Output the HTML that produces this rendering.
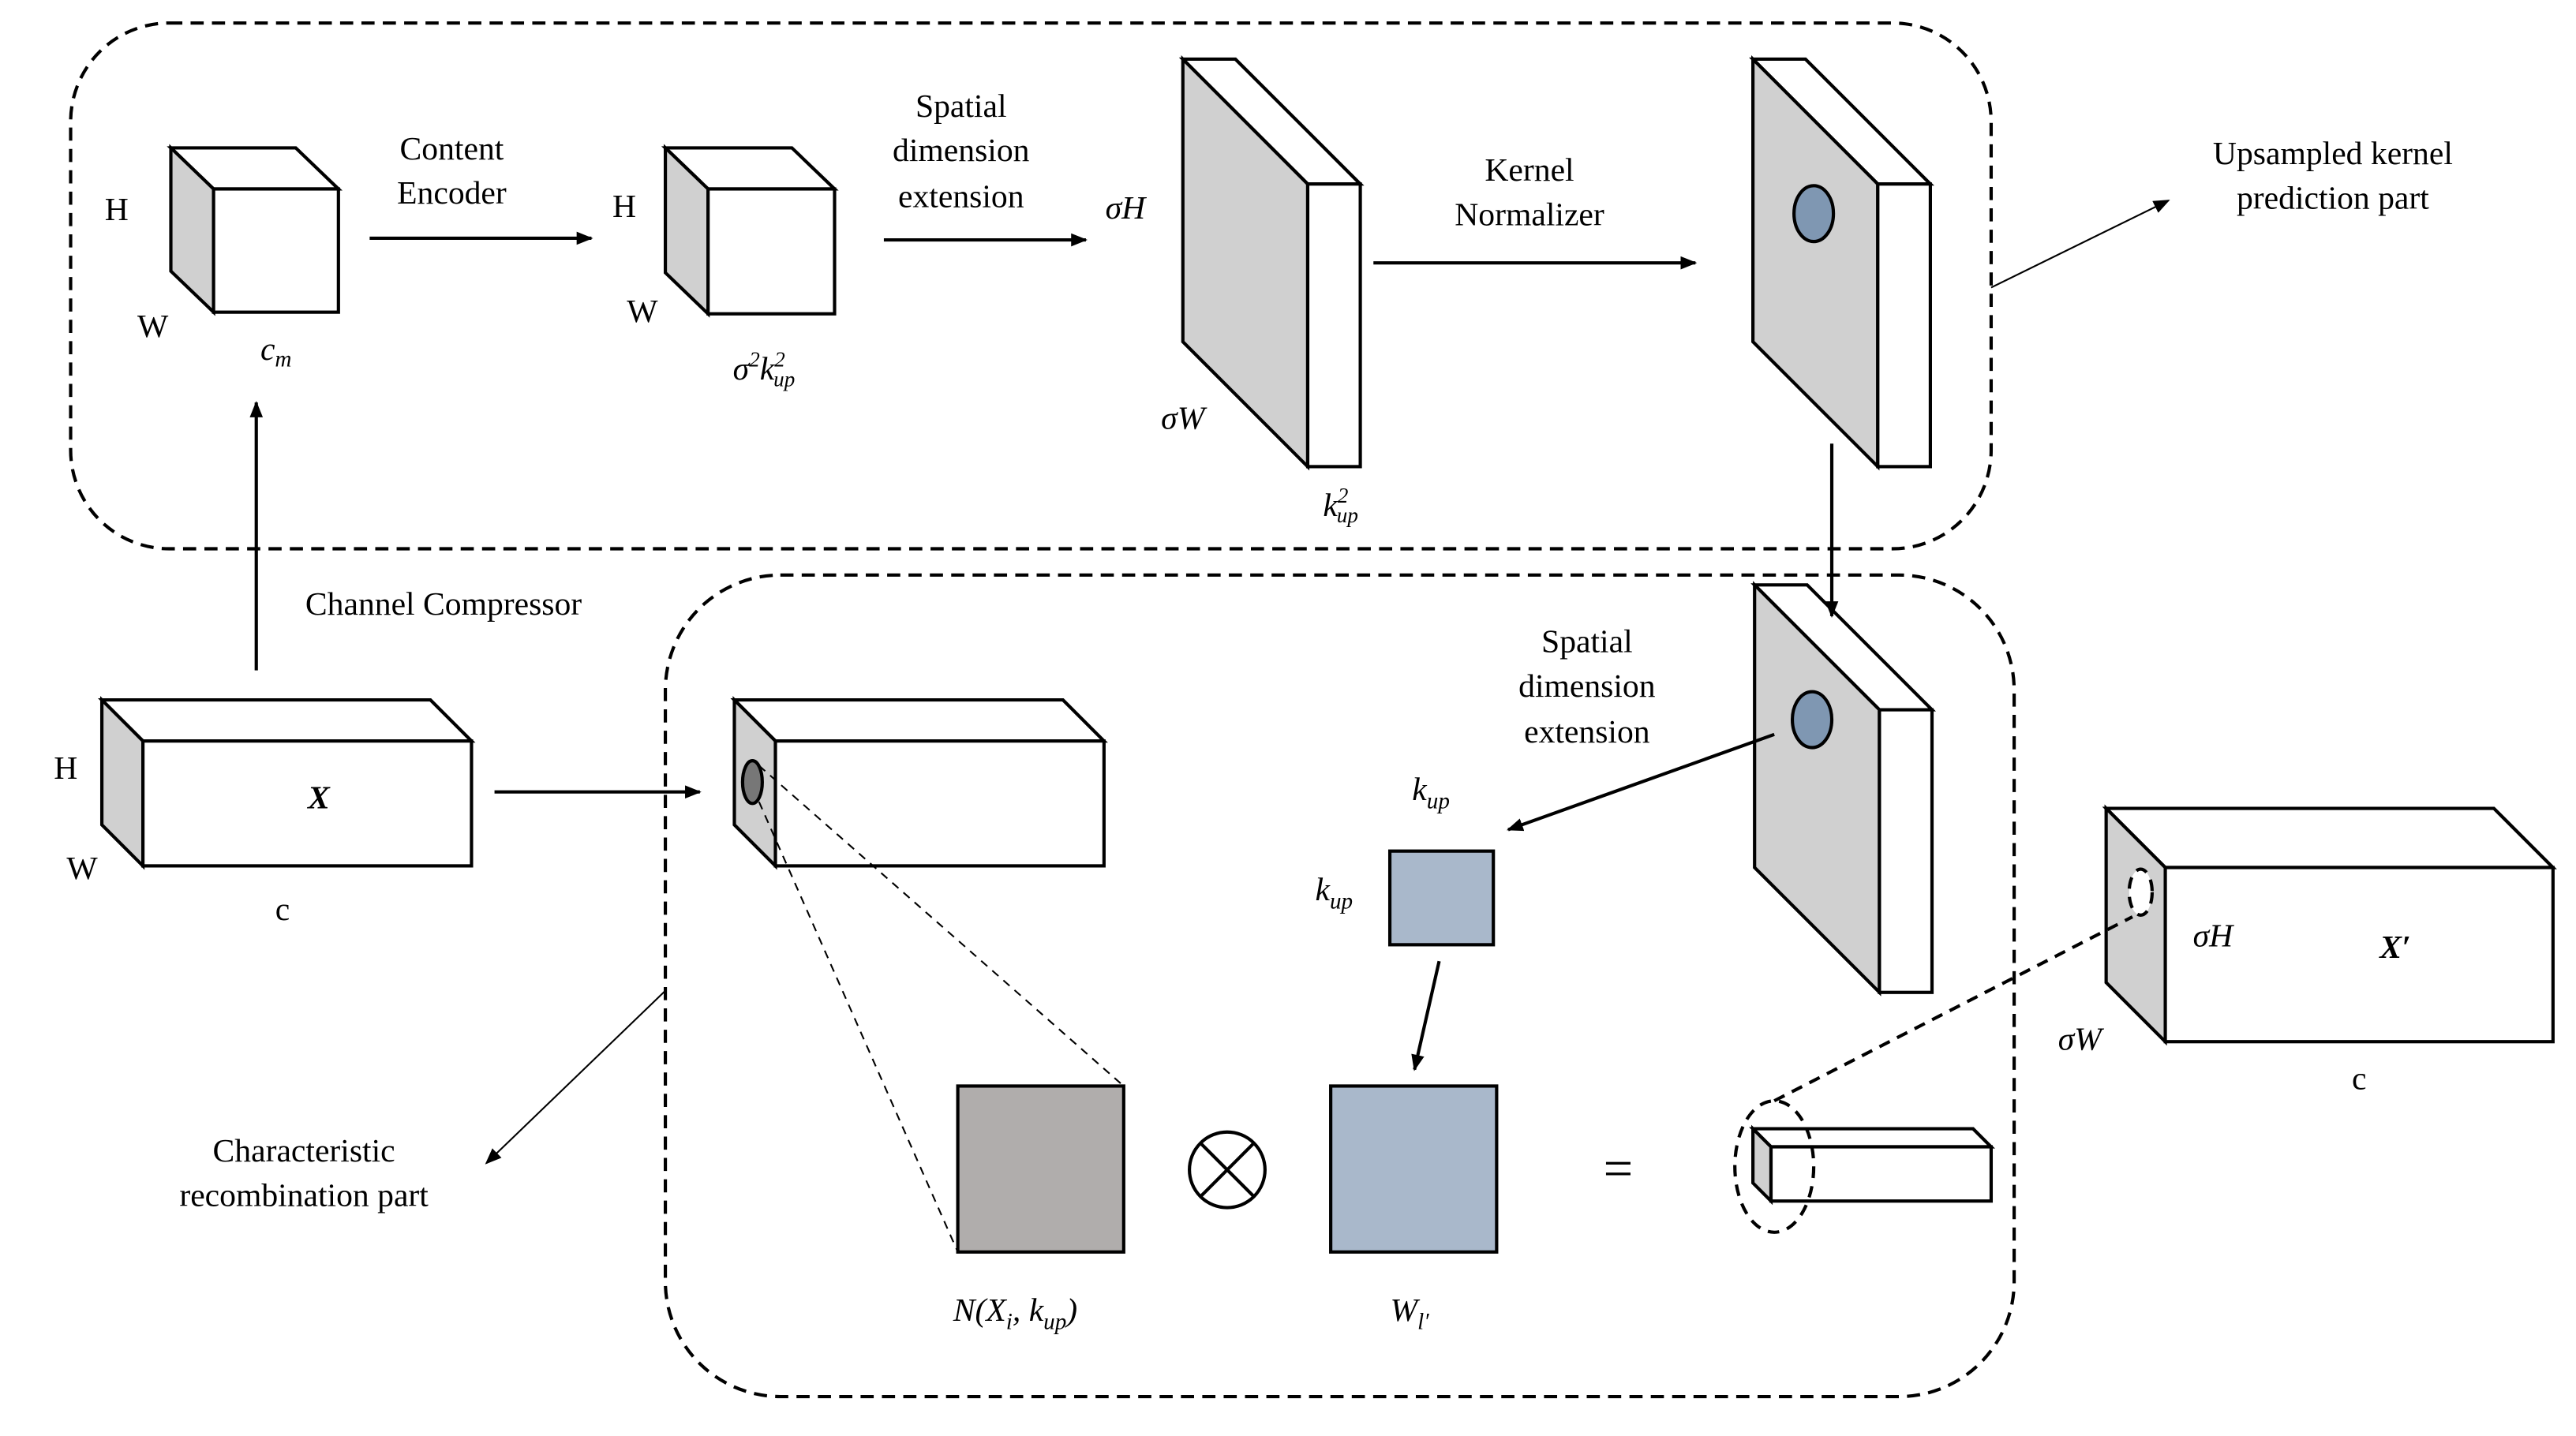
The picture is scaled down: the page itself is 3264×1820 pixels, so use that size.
<!DOCTYPE html>
<html><head><meta charset="utf-8"><style>
html,body{margin:0;padding:0;background:#fff;}
svg{display:block;}
text{font-family:"Liberation Serif","DejaVu Serif",serif;font-size:20px;fill:#000;}
.i{font-style:italic;}
</style></head><body>
<svg width="3264" height="1820" viewBox="0 0 1568 874" preserveAspectRatio="none" xmlns="http://www.w3.org/2000/svg">
<defs><marker id="a" markerWidth="10" markerHeight="8" refX="9" refY="4" orient="auto" markerUnits="userSpaceOnUse"><path d="M0,0 L10,4 L0,8 z" fill="#000"/></marker></defs>
<rect width="1568" height="874" fill="#fff"/>
<g fill="none" stroke="#000" stroke-width="2" stroke-dasharray="8,5">
<rect x="43" y="14" width="1169" height="320" rx="60"/>
<rect x="405" y="350" width="821" height="500" rx="70"/>
</g>
<g stroke="#000" stroke-width="2">
<polygon points="104,90 180,90 206,115 130,115" fill="#fff"/>
<polygon points="104,90 130,115 130,190 104,165" fill="#d0d0d0"/>
<rect x="130" y="115" width="76" height="75" fill="#fff"/>
<polygon points="405,90 482,90 508,115 431,115" fill="#fff"/>
<polygon points="405,90 431,115 431,191 405,166" fill="#d0d0d0"/>
<rect x="431" y="115" width="77" height="76" fill="#fff"/>
<polygon points="720,36 752,36 828,112 796,112" fill="#fff"/>
<polygon points="720,36 796,112 796,284 720,208" fill="#d0d0d0"/>
<rect x="796" y="112" width="32" height="172" fill="#fff"/>
<polygon points="1067,36 1099,36 1175,112 1143,112" fill="#fff"/>
<polygon points="1067,36 1143,112 1143,284 1067,208" fill="#d0d0d0"/>
<rect x="1143" y="112" width="32" height="172" fill="#fff"/>
<ellipse cx="1104" cy="130" rx="12" ry="17" fill="#7f97b2"/>
<polygon points="1068,356 1100,356 1176,432 1144,432" fill="#fff"/>
<polygon points="1068,356 1144,432 1144,604 1068,528" fill="#d0d0d0"/>
<rect x="1144" y="432" width="32" height="172" fill="#fff"/>
<ellipse cx="1103" cy="438" rx="12" ry="17" fill="#7f97b2"/>
<polygon points="62,426 262,426 287,451 87,451" fill="#fff"/>
<polygon points="62,426 87,451 87,527 62,502" fill="#d0d0d0"/>
<rect x="87" y="451" width="200" height="76" fill="#fff"/>
<polygon points="447,426 647,426 672,451 472,451" fill="#fff"/>
<polygon points="447,426 472,451 472,527 447,502" fill="#d0d0d0"/>
<rect x="472" y="451" width="200" height="76" fill="#fff"/>
<ellipse cx="458" cy="476" rx="6" ry="13" fill="#777"/>
<polygon points="1282,492 1518,492 1554,528 1318,528" fill="#fff"/>
<polygon points="1282,492 1318,528 1318,634 1282,598" fill="#d0d0d0"/>
<rect x="1318" y="528" width="236" height="106" fill="#fff"/>
<rect x="846" y="518" width="63" height="57" fill="#a9b8cb"/>
<rect x="810" y="661" width="101" height="101" fill="#a9b8cb"/>
<rect x="583" y="661" width="101" height="101" fill="#b0adac"/>
<circle cx="747" cy="712" r="23" fill="#fff"/>
<line x1="731" y1="696" x2="763" y2="728"/><line x1="763" y1="696" x2="731" y2="728"/>
<polygon points="1067,687 1201,687 1212,698 1078,698" fill="#fff"/>
<polygon points="1067,687 1078,698 1078,731 1067,720" fill="#d0d0d0"/>
<rect x="1078" y="698" width="134" height="33" fill="#fff"/>
</g>
<g fill="none" stroke="#000" stroke-width="2" stroke-dasharray="7,5">
<ellipse cx="1080" cy="710" rx="24" ry="40"/>
<ellipse cx="1303" cy="543" rx="7" ry="14" fill="#fff"/>
<line x1="1080" y1="670" x2="1298" y2="558"/>
</g>
<g stroke="#000" stroke-width="1" stroke-dasharray="5,4">
<line x1="462" y1="466" x2="684" y2="661"/>
<line x1="462" y1="488" x2="583" y2="762"/>
</g>
<g stroke="#000" stroke-width="2" marker-end="url(#a)">
<line x1="225" y1="145" x2="360" y2="145"/>
<line x1="538" y1="146" x2="661" y2="146"/>
<line x1="836" y1="160" x2="1032" y2="160"/>
<line x1="1115" y1="270" x2="1115" y2="375"/>
<line x1="1080" y1="447" x2="918" y2="505"/>
<line x1="876" y1="585" x2="861" y2="651"/>
<line x1="156" y1="408" x2="156" y2="245"/>
<line x1="301" y1="482" x2="426" y2="482"/>
</g>
<g stroke="#000" stroke-width="1" marker-end="url(#a)">
<line x1="1212" y1="175" x2="1320" y2="122"/>
<line x1="405" y1="603" x2="296" y2="708"/>
</g>
<g text-anchor="middle">
<text x="71" y="134">H</text><text x="93" y="205">W</text>
<text x="168" y="219" class="i">c<tspan style="font-size:14px" dy="4">m</tspan></text>
<text x="275" y="97">Content</text><text x="275" y="124">Encoder</text>
<text x="380" y="132">H</text><text x="391" y="196">W</text>
<text x="465" y="231" class="i">σ<tspan style="font-size:13px" dy="-8">2</tspan><tspan dy="8">k</tspan><tspan style="font-size:13px" dy="-8">2</tspan><tspan style="font-size:13px" dx="-7" dy="12">up</tspan></text>
<text x="585" y="71">Spatial</text><text x="585" y="98">dimension</text><text x="585" y="126">extension</text>
<text x="685" y="133" class="i">σH</text><text x="720" y="261" class="i">σW</text>
<text x="816" y="314" class="i">k<tspan style="font-size:13px" dy="-8">2</tspan><tspan style="font-size:13px" dx="-7" dy="12">up</tspan></text>
<text x="931" y="110">Kernel</text><text x="931" y="137">Normalizer</text>
<text x="1420" y="100">Upsampled kernel</text><text x="1420" y="127">prediction part</text>
<text x="966" y="397">Spatial</text><text x="966" y="424">dimension</text><text x="966" y="452">extension</text>
<text x="871" y="487" class="i">k<tspan style="font-size:14px" dy="5">up</tspan></text>
<text x="812" y="548" class="i">k<tspan style="font-size:14px" dy="5">up</tspan></text>
<text x="858" y="804" class="i">W<tspan style="font-size:14px" dy="5">l′</tspan></text>
<text x="618" y="804" class="i">N(X<tspan style="font-size:14px" dy="5">i</tspan><tspan dy="-5">, k</tspan><tspan style="font-size:14px" dy="5">up</tspan><tspan dy="-5">)</tspan></text>
<text x="985" y="722" style="font-size:32px">=</text>
<text x="270" y="374">Channel Compressor</text>
<text x="40" y="474">H</text><text x="50" y="535">W</text><text x="172" y="560">c</text>
<text x="194" y="492" class="i" font-weight="bold">X</text>
<text x="1347" y="576" class="i">σH</text><text x="1266" y="639" class="i">σW</text>
<text x="1458" y="583" class="i" font-weight="bold">X′</text><text x="1436" y="663">c</text>
<text x="185" y="707">Characteristic</text><text x="185" y="734">recombination part</text>
</g>
</svg>
</body></html>
